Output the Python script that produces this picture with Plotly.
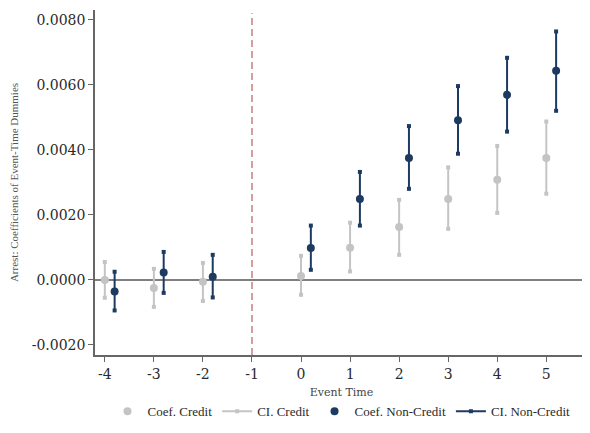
import plotly.graph_objects as go

# event time on x axis
event_time = [-4, -3, -2, 0, 1, 2, 3, 4, 5]

# credit arrests: point estimates and 95% CI bounds
coef_credit = [0.0000, -0.00025, -0.00006, 0.00012, 0.00099, 0.00163, 0.00249, 0.00308, 0.00375]
ci_lo_credit = [-0.00055, -0.00083, -0.00065, -0.00046, 0.00026, 0.00077, 0.00157, 0.00206, 0.00265]
ci_hi_credit = [0.00055, 0.00034, 0.00052, 0.00074, 0.00176, 0.00246, 0.00346, 0.00412, 0.00487]

# non-credit arrests
coef_noncredit = [-0.00036, 0.00023, 0.00010, 0.00098, 0.00249, 0.00375, 0.00491, 0.00569, 0.00643]
ci_lo_noncredit = [-0.00094, -0.00040, -0.00054, 0.00031, 0.00167, 0.00280, 0.00388, 0.00456, 0.00520]
ci_hi_noncredit = [0.00025, 0.00086, 0.00077, 0.00167, 0.00332, 0.00473, 0.00596, 0.00683, 0.00764]

y_ticks = [-0.002, 0.0, 0.002, 0.004, 0.006, 0.008]
y_labels = ['-0.0020', '0.0000', '0.0020', '0.0040', '0.0060', '0.0080']
x_ticks = [-4, -3, -2, -1, 0, 1, 2, 3, 4, 5]
x_labels = ['-4', '-3', '-2', '-1', '0', '1', '2', '3', '4', '5']

GRAY = '#c4c4c4'
NAVY = '#1d3a60'
SHIFT = 0.2


def ci_segments(xs, lo, hi):
    sx, sy = [], []
    for x, a, b in zip(xs, lo, hi):
        sx += [x, x, None]
        sy += [a, b, None]
    return sx, sy


xc = event_time
xn = [x + SHIFT for x in event_time]
cx, cy = ci_segments(xc, ci_lo_credit, ci_hi_credit)
nx, ny = ci_segments(xn, ci_lo_noncredit, ci_hi_noncredit)

fig = go.Figure()
fig.add_trace(go.Scatter(x=xc, y=coef_credit, mode='markers', name='Coef. Credit',
                         marker=dict(color=GRAY, size=8)))
fig.add_trace(go.Scatter(x=cx, y=cy, mode='lines+markers', name='CI. Credit',
                         line=dict(color=GRAY, width=2),
                         marker=dict(color=GRAY, size=4, symbol='square')))
fig.add_trace(go.Scatter(x=xn, y=coef_noncredit, mode='markers', name='Coef. Non-Credit',
                         marker=dict(color=NAVY, size=8)))
fig.add_trace(go.Scatter(x=nx, y=ny, mode='lines+markers', name='CI. Non-Credit',
                         line=dict(color=NAVY, width=2),
                         marker=dict(color=NAVY, size=4, symbol='square')))

# zero line and treatment line
fig.add_shape(type='line', xref='paper', x0=0, x1=1, yref='y', y0=0, y1=0,
              line=dict(color='#555555', width=1.5), layer='below')
fig.add_shape(type='line', xref='x', x0=-1, x1=-1, yref='y', y0=-0.00231, y1=0.0082,
              line=dict(color='#c97f7f', width=1.5, dash='7px,4px'), layer='below')

# the page body has an 8px margin, so the figure is drawn 8px smaller
serif = 'DejaVu Serif'
fig.update_layout(
    width=582, height=425,
    margin=dict(l=87, r=2, t=2, b=78),
    paper_bgcolor='white', plot_bgcolor='white',
    showlegend=True,
    legend=dict(orientation='h', x=0.5, xanchor='center', y=-0.12, yanchor='top',
                font=dict(family='Liberation Serif', size=13, color='#2a2a2a'),
                itemwidth=30, tracegroupgap=0),
    font=dict(family=serif, color='#2a2a2a'),
)
fig.update_xaxes(range=[-4.2, 5.85], tickvals=x_ticks, ticktext=x_labels,
                 showgrid=False, zeroline=False, automargin=False,
                 showline=True, linecolor='#666666', linewidth=1.5,
                 ticks='outside', ticklen=5, tickcolor='#666666',
                 tickfont=dict(family=serif, size=14, color='#2a2a2a'),
                 title=dict(text='Event Time', font=dict(family=serif, size=11, color='#444444'),
                            standoff=8))
fig.update_yaxes(range=[-0.00231, 0.0083], tickvals=y_ticks, ticktext=y_labels,
                 showgrid=False, zeroline=False, automargin=False,
                 showline=True, linecolor='#666666', linewidth=1.5,
                 ticks='outside', ticklen=5, tickcolor='#666666',
                 tickfont=dict(family=serif, size=14, color='#2a2a2a'),
                 title=dict(text='Arrest: Coefficients of Event-Time Dummies',
                            font=dict(family='Liberation Serif', size=11, color='#555555'),
                            standoff=14))

fig.write_html('out.html')
